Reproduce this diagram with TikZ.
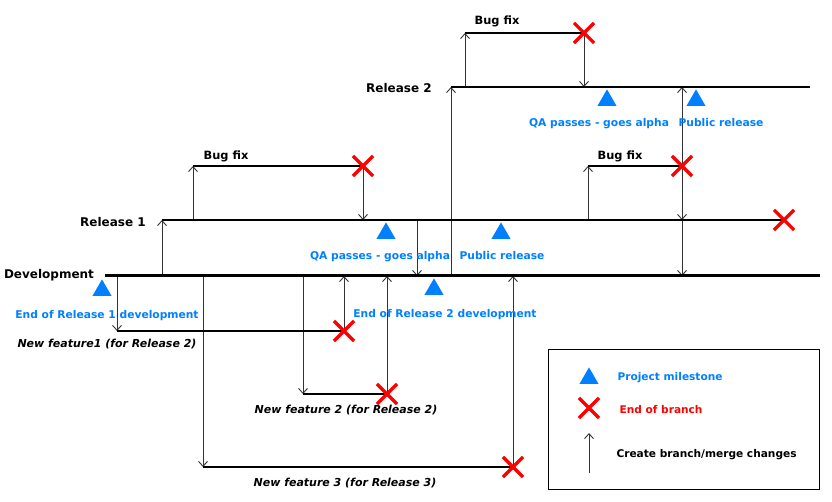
\documentclass[tikz,border=0pt]{standalone}
\usepackage{fontspec}
\setmainfont{DejaVu Sans}
\usetikzlibrary{shapes,arrows.meta}

\definecolor{milestoneblue}{RGB}{0,128,255}

\begin{document}
\begin{tikzpicture}[x=1pt, y=-1pt,
    trunk/.style={line width=3pt},
    branch/.style={line width=2pt},
    arrow/.style={-{Straight Barb[length=5pt,width=9pt]}, line width=0.9pt, black!80},
    milestone/.style={regular polygon, regular polygon sides=3, fill=milestoneblue, minimum size=22pt, inner sep=0pt, anchor=corner 1},
    endmark/.style={cross out, draw=red, line width=3.2pt, minimum size=17pt, inner sep=0pt},
    branchlabel/.style={font=\bfseries\fontsize{12}{14}\selectfont, anchor=base},
    fixlabel/.style={font=\bfseries\fontsize{11.4}{13}\selectfont, anchor=base},
    milestonelabel/.style={font=\bfseries\fontsize{10.7}{13}\selectfont, text=milestoneblue, anchor=base},
    featurelabel/.style={font=\bfseries\itshape\fontsize{11}{13}\selectfont, anchor=base},
    legendlabel/.style={font=\bfseries\fontsize{10.6}{12}\selectfont, anchor=base west}
]
    \useasboundingbox (0,0) rectangle (832,502);

    % Branch end points
    \coordinate (dev_start) at (105,276);
    \coordinate (dev_end) at (820,276);
    \coordinate (rel1_start) at (162,220);
    \coordinate (rel1_end) at (784,220);
    \coordinate (rel1_out) at (417,220);
    \coordinate (rel2_start) at (451,87);
    \coordinate (rel2_end) at (810,87);
    \coordinate (fix1_start) at (193,166);
    \coordinate (fix1_end) at (363,166);
    \coordinate (fix2_start) at (465,33);
    \coordinate (fix2_end) at (584,33);
    \coordinate (fix3_start) at (588,166);
    \coordinate (fix3_end) at (682,166);
    \coordinate (feat1_start) at (117,331);
    \coordinate (feat1_end) at (344,331);
    \coordinate (feat2_start) at (303,394);
    \coordinate (feat2_end) at (387,394);
    \coordinate (feat3_start) at (203,467);
    \coordinate (feat3_end) at (513,467);

    % Create branch / merge changes
    \draw[arrow] (rel1_start |- dev_start) -- (rel1_start);
    \draw[arrow] (fix1_start |- rel1_start) -- (fix1_start);
    \draw[arrow] (fix1_end) -- (fix1_end |- rel1_start);
    \draw[arrow] (rel1_out) -- (rel1_out |- dev_start);
    \draw[arrow] (rel2_start |- dev_start) -- (rel2_start);
    \draw[arrow] (fix2_start |- rel2_start) -- (fix2_start);
    \draw[arrow] (fix2_end) -- (fix2_end |- rel2_start);
    \draw[arrow] (fix3_start |- rel1_start) -- (fix3_start);
    \draw[arrow] (fix3_end) -- (fix3_end |- rel2_start);
    \draw[arrow] (fix3_end) -- (fix3_end |- rel1_start);
    \draw[arrow] (fix3_end |- rel1_start) -- (fix3_end |- dev_start);
    \draw[arrow] (feat1_start |- dev_start) -- (feat1_start);
    \draw[arrow] (feat1_end) -- (feat1_end |- dev_start);
    \draw[arrow] (feat2_start |- dev_start) -- (feat2_start);
    \draw[arrow] (feat2_end) -- (feat2_end |- dev_start);
    \draw[arrow] (feat3_start |- dev_start) -- (feat3_start);
    \draw[arrow] (feat3_end) -- (feat3_end |- dev_start);

    % Branches
    \draw[trunk] (dev_start) -- (dev_end);
    \draw[branch] (rel1_start) -- (rel1_end);
    \draw[branch] (rel2_start) -- (rel2_end);
    \draw[branch] (fix1_start) -- (fix1_end);
    \draw[branch] (fix2_start) -- (fix2_end);
    \draw[branch] (fix3_start) -- (fix3_end);
    \draw[branch] (feat1_start) -- (feat1_end);
    \draw[branch] (feat2_start) -- (feat2_end);
    \draw[branch] (feat3_start) -- (feat3_end);

    % End of branch
    \node[endmark] (x_rel1) at (rel1_end) {};
    \node[endmark] (x_fix1) at (fix1_end) {};
    \node[endmark] (x_fix2) at (fix2_end) {};
    \node[endmark] (x_fix3) at (fix3_end) {};
    \node[endmark] (x_feat1) at (feat1_end) {};
    \node[endmark] (x_feat2) at (feat2_end) {};
    \node[endmark] (x_feat3) at (feat3_end) {};

    % Branch names
    \node[branchlabel] (dev_label) at (49,279) {Development};
    \node[branchlabel] (rel1_label) at (113,227) {Release 1};
    \node[branchlabel] (rel2_label) at (399,93) {Release 2};
    \node[fixlabel] (fix1_label) at (226,160) {Bug fix};
    \node[fixlabel] (fix2_label) at (497,25) {Bug fix};
    \node[fixlabel] (fix3_label) at (620,160) {Bug fix};
    \node[featurelabel] (feat1_label) at (107,347) {New feature1 (for Release 2)};
    \node[featurelabel] (feat2_label) at (346,413) {New feature 2 (for Release 2)};
    \node[featurelabel] (feat3_label) at (345,486) {New feature 3 (for Release 3)};

    % Milestones
    \node[milestone] (ms_dev1) at (102,279) {};
    \node[milestonelabel] (ms_dev1_label) at (107,319) {End of Release 1 development};
    \node[milestone] (ms_dev2) at (434,278) {};
    \node[milestonelabel] (ms_dev2_label) at (445,318) {End of Release 2 development};
    \node[milestone] (ms_rel1_qa) at (386,222) {};
    \node[milestonelabel] (ms_rel1_qa_label) at (380,260) {QA passes - goes alpha};
    \node[milestone] (ms_rel1_pub) at (501,222) {};
    \node[milestonelabel] (ms_rel1_pub_label) at (502,260) {Public release};
    \node[milestone] (ms_rel2_qa) at (607,89) {};
    \node[milestonelabel] (ms_rel2_qa_label) at (599,127) {QA passes - goes alpha};
    \node[milestone] (ms_rel2_pub) at (696,89) {};
    \node[milestonelabel] (ms_rel2_pub_label) at (721,127) {Public release};

    % Legend
    \node[draw, line width=0.8pt, minimum width=271pt, minimum height=140pt, inner sep=0pt] (legend) at (683.5,419) {};
    \node[milestone] (leg_milestone) at (589,367) {};
    \node[legendlabel, text=milestoneblue] (leg_milestone_label) at (614,380) {Project milestone};
    \node[endmark] (leg_end) at (589,408) {};
    \node[legendlabel, text=red] (leg_end_label) at (616,413) {End of branch};
    \coordinate (leg_arrow_start) at (589,473);
    \coordinate (leg_arrow_end) at (589,433);
    \draw[arrow] (leg_arrow_start) -- (leg_arrow_end);
    \node[legendlabel] (leg_arrow_label) at (613,457) {Create branch/merge changes};
\end{tikzpicture}
\end{document}
